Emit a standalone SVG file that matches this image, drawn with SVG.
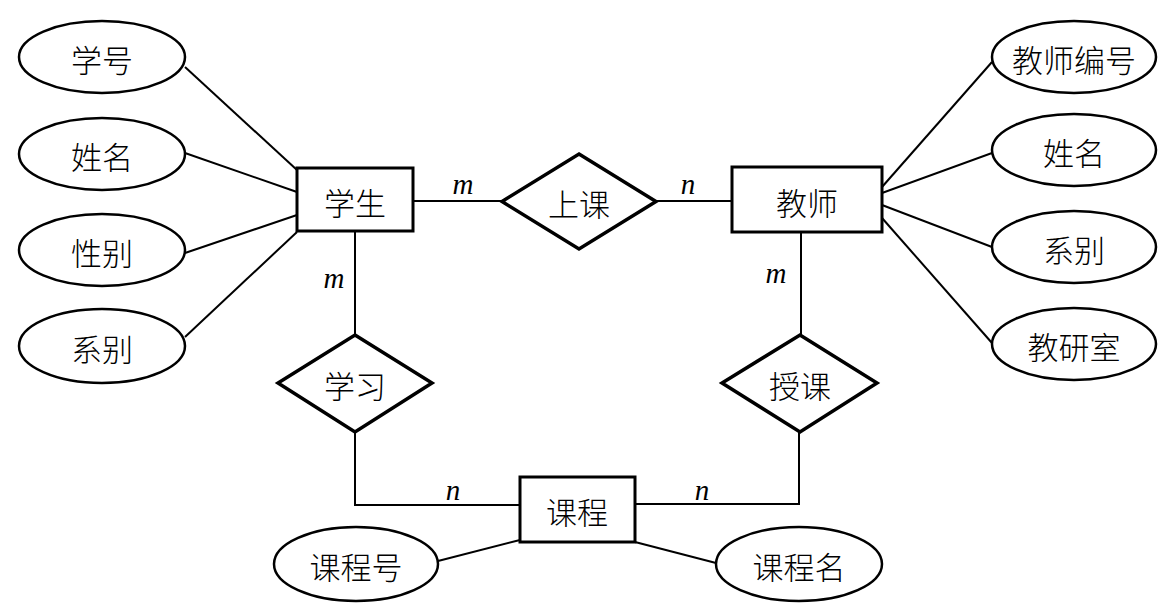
<svg xmlns="http://www.w3.org/2000/svg" width="1176" height="610" viewBox="0 0 1176 610">
<style>
.e{fill:#fff;stroke:#000;stroke-width:2.5}
.r{fill:#fff;stroke:#000;stroke-width:3}
.d{fill:#fff;stroke:#000;stroke-width:3.5;stroke-linejoin:miter}
.t{font-family:"Noto Sans CJK SC","Noto Sans CJK JP",sans-serif;font-size:31px;font-weight:300;fill:#000;text-anchor:middle;dominant-baseline:central}
.l{font-family:"Liberation Serif",serif;font-style:italic;font-size:29px;fill:#000;text-anchor:middle}
#connectors line,#connectors polyline{stroke:#000;stroke-width:2;fill:none}
</style>
<rect width="1176" height="610" fill="#fff"/>
<g id="connectors">
<line x1="185" y1="67" x2="297" y2="170"/>
<line x1="185" y1="153" x2="297" y2="192"/>
<line x1="185" y1="253" x2="297" y2="215"/>
<line x1="185" y1="337" x2="297" y2="232"/>
<line x1="413" y1="201" x2="502" y2="201"/>
<line x1="656" y1="201" x2="732" y2="201"/>
<line x1="355" y1="231" x2="355" y2="335"/>
<polyline points="355,432 355,505 520,505"/>
<line x1="801" y1="232" x2="801" y2="335"/>
<polyline points="799,432 799,504 635,504"/>
<line x1="882" y1="187" x2="992" y2="62"/>
<line x1="882" y1="193" x2="992" y2="153"/>
<line x1="882" y1="205" x2="992" y2="247"/>
<line x1="882" y1="218" x2="992" y2="343"/>
<line x1="438" y1="561" x2="520" y2="540"/>
<line x1="635" y1="542" x2="716" y2="563"/>
<text class="l" x="463" y="194">m</text>
<text class="l" x="688" y="194">n</text>
<text class="l" x="334" y="288">m</text>
<text class="l" x="776" y="283">m</text>
<text class="l" x="453" y="500">n</text>
<text class="l" x="702" y="500">n</text>
</g>
<g id="attr-xuehao"><ellipse class="e" cx="102" cy="57" rx="83" ry="36"/><text class="t" x="102" y="58">学号</text></g>
<g id="attr-xingming-s"><ellipse class="e" cx="102" cy="154" rx="83" ry="36"/><text class="t" x="102" y="155">姓名</text></g>
<g id="attr-xingbie"><ellipse class="e" cx="102" cy="250" rx="83" ry="36"/><text class="t" x="102" y="251">性别</text></g>
<g id="attr-xibie-s"><ellipse class="e" cx="102" cy="346" rx="83" ry="37"/><text class="t" x="102" y="347">系别</text></g>
<g id="ent-xuesheng"><rect class="r" x="297" y="168" width="116" height="63"/><text class="t" x="355" y="201">学生</text></g>
<g id="rel-shangke"><polygon class="d" points="579,154 656,201.5 579,249 502,201.5"/><text class="t" x="579" y="202">上课</text></g>
<g id="ent-jiaoshi"><rect class="r" x="732" y="167" width="150" height="65"/><text class="t" x="807" y="201">教师</text></g>
<g id="attr-jsbh"><ellipse class="e" cx="1074" cy="57" rx="82" ry="36"/><text class="t" x="1074" y="58">教师编号</text></g>
<g id="attr-xingming-t"><ellipse class="e" cx="1074" cy="150" rx="82" ry="36"/><text class="t" x="1074" y="151">姓名</text></g>
<g id="attr-xibie-t"><ellipse class="e" cx="1074" cy="247" rx="82" ry="36"/><text class="t" x="1074" y="248">系别</text></g>
<g id="attr-jys"><ellipse class="e" cx="1074" cy="344" rx="82" ry="36"/><text class="t" x="1074" y="345">教研室</text></g>
<g id="rel-xuexi"><polygon class="d" points="355,335 432,383 355,432 278,383"/><text class="t" x="355" y="384">学习</text></g>
<g id="rel-shouke"><polygon class="d" points="800,335 877,383 800,432 722,383"/><text class="t" x="800" y="384">授课</text></g>
<g id="ent-kecheng"><rect class="r" x="520" y="477" width="115" height="65"/><text class="t" x="577" y="510">课程</text></g>
<g id="attr-kch"><ellipse class="e" cx="356" cy="564" rx="82" ry="37"/><text class="t" x="356" y="565">课程号</text></g>
<g id="attr-kcm"><ellipse class="e" cx="799" cy="564" rx="83" ry="37"/><text class="t" x="799" y="565">课程名</text></g>
</svg>
